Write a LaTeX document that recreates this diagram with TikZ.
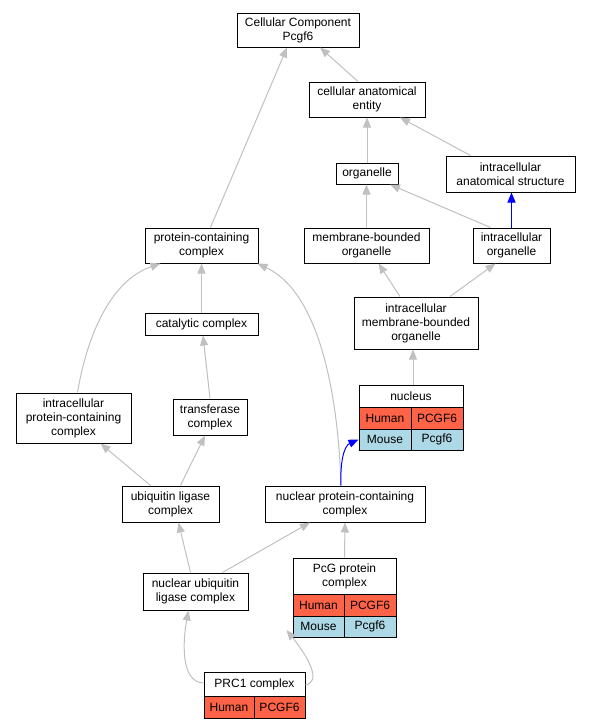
\documentclass[tikz,border=0pt]{standalone}
\usepackage{fontspec}
\setmainfont{Liberation Sans}
\usepackage{xcolor}
\usetikzlibrary{arrows.meta,positioning}

\definecolor{humanred}{HTML}{FF6347}
\definecolor{mouseblue}{HTML}{ADD8E6}
\definecolor{edgegray}{HTML}{C0C0C0}

\begin{document}
\begin{tikzpicture}[x=1pt,y=-1pt,
	font=\fontsize{12}{14}\selectfont,
	term/.style={draw, line width=1pt, fill=white, align=center, inner sep=0pt},
	cell/.style={term, minimum height=22pt},
	human/.style={cell, fill=humanred},
	mouse/.style={cell, fill=mouseblue},
	edge/.style={draw=edgegray, line width=1pt, -{Triangle[length=10pt,width=8pt]}},
	isa/.style={draw=blue, line width=1pt, -{Triangle[length=10pt,width=8pt]}}]
	\useasboundingbox (0,0) rectangle (591,728);

	% terms
	\node[term, minimum width=122pt, minimum height=34pt] (cc) at (298,30) {Cellular Component\\Pcgf6};
	\node[term, minimum width=116pt, minimum height=35pt] (cae) at (367,99.5) {cellular anatomical\\entity};
	\node[term, minimum width=62pt, minimum height=21pt] (org) at (367,173.5) {organelle};
	\node[term, minimum width=129pt, minimum height=36pt] (ias) at (510.5,174) {intracellular\\anatomical structure};
	\node[term, minimum width=125pt, minimum height=35pt] (mbo) at (366.5,245.5) {membrane-bounded\\organelle};
	\node[term, minimum width=77pt, minimum height=35pt] (io) at (511.5,245.5) {intracellular\\organelle};
	\node[term, minimum width=113pt, minimum height=35pt] (pcc) at (201.5,245.5) {protein-containing\\complex};
	\node[term, minimum width=124pt, minimum height=52pt] (imbo) at (416,323) {intracellular\\membrane-bounded\\organelle};
	\node[term, minimum width=113pt, minimum height=22pt] (cat) at (201.5,324) {catalytic complex};
	\node[term, minimum width=115pt, minimum height=50pt] (ipcc) at (73.5,418) {intracellular\\protein-containing\\complex};
	\node[term, minimum width=74pt, minimum height=36pt] (trans) at (210,417) {transferase\\complex};
	\node[term, minimum width=97pt, minimum height=36pt] (ulc) at (170.5,504) {ubiquitin ligase\\complex};
	\node[term, minimum width=160pt, minimum height=36pt] (npcc) at (345,504) {nuclear protein-containing\\complex};
	\node[term, minimum width=105pt, minimum height=37pt] (nulc) at (195.5,591.5) {nuclear ubiquitin\\ligase complex};

	% nucleus with genes
	\node[term, minimum width=104pt, minimum height=22pt] (nuc) at (411,396) {nucleus};
	\node[human, minimum width=52pt] (nuc-h1) at (385,418) {Human};
	\node[human, minimum width=52pt] (nuc-h2) at (437,418) {PCGF6};
	\node[mouse, minimum width=52pt, minimum height=21pt] (nuc-m1) at (385,439.5) {Mouse};
	\node[mouse, minimum width=52pt, minimum height=21pt] (nuc-m2) at (437,439.5) {Pcgf6};

	% PcG protein complex with genes
	\node[term, minimum width=103pt, minimum height=36pt] (pcg) at (344.5,576) {PcG protein\\complex};
	\node[human, minimum width=51pt] (pcg-h1) at (318.5,605) {Human};
	\node[human, minimum width=52pt] (pcg-h2) at (370,605) {PCGF6};
	\node[mouse, minimum width=51pt, minimum height=21pt] (pcg-m1) at (318.5,626.5) {Mouse};
	\node[mouse, minimum width=52pt, minimum height=21pt] (pcg-m2) at (370,626.5) {Pcgf6};

	% PRC1 complex with genes
	\node[term, minimum width=101pt, minimum height=24pt] (prc) at (254.5,684) {PRC1 complex};
	\node[human, minimum width=50pt] (prc-h1) at (229,707) {Human};
	\node[human, minimum width=51pt] (prc-h2) at (279.5,707) {PCGF6};

	% is_a / part_of edges
	\draw[edge] ([xshift=-9pt]cae.north) -- ([xshift=22pt]cc.south);
	\draw[edge] ([xshift=9pt]pcc.north) -- ([xshift=-11pt]cc.south);
	\draw[edge] (org.north) -- (cae.south);
	\draw[edge] ([xshift=-40pt]ias.north) -- ([xshift=33pt]cae.south);
	\draw[edge] (mbo.north) -- ([xshift=-0.5pt]org.south);
	\draw[edge] ([xshift=-21pt]io.north) -- ([xshift=23pt]org.south);
	\draw[isa] (io.north) -- ([xshift=1pt]ias.south);
	\draw[edge] ([xshift=-16pt]imbo.north) -- ([xshift=12pt]mbo.south);
	\draw[edge] ([xshift=34pt]imbo.north) -- ([xshift=-16pt]io.south);
	\draw[edge] ([xshift=2pt]nuc.north) -- ([xshift=-3pt]imbo.south);
	\draw[edge] (cat.north) -- (pcc.south);
	\draw[edge] ([xshift=4pt]ipcc.north) .. controls (90,320) and (118,278) .. ([xshift=-41pt]pcc.south);
	\draw[edge] (trans.north) -- ([xshift=1.5pt]cat.south);
	\draw[edge] ([xshift=-4pt]npcc.north) .. controls (338,390) and (318,292) .. ([xshift=-1pt]pcc.south east);
	\draw[isa] ([xshift=-4pt]npcc.north) .. controls (340,462) and (344,446) .. (nuc-m1.west);
	\draw[edge] ([xshift=-20pt]ulc.north) -- ([xshift=27pt]ipcc.south);
	\draw[edge] ([xshift=10pt]ulc.north) -- ([xshift=-5pt]trans.south);
	\draw[edge] ([xshift=-5pt]nulc.north) -- ([xshift=8pt]ulc.south);
	\draw[edge] ([xshift=27pt]nulc.north) -- ([xshift=-35pt]npcc.south);
	\draw[edge] (pcg.north) -- (npcc.south);
	\draw[edge] ([yshift=1pt]prc.west) .. controls (180,682) and (183,640) .. ([xshift=-7pt]nulc.south);
	\draw[edge] ([yshift=-1pt]prc.east) .. controls (320,682) and (312,662) .. ([xshift=-6pt,yshift=-3.5pt]pcg-m1.west);
\end{tikzpicture}
\end{document}
